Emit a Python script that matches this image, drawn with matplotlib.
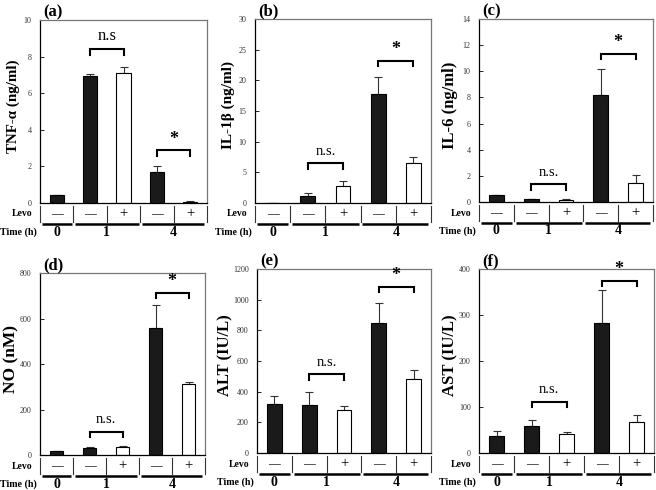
import matplotlib
matplotlib.use('Agg')
import matplotlib.pyplot as plt
import matplotlib.transforms as mtrans
import numpy as np

plt.rcParams['font.family'] = ['Liberation Serif', 'DejaVu Serif']

# data
panel_tags = ['(a)', '(b)', '(c)', '(d)', '(e)', '(f)']
y_titles = ['TNF-α (ng/ml)', 'IL-1β (ng/ml)', 'IL-6 (ng/ml)', 'NO (nM)', 'ALT (IU/L)', 'AST (IU/L)']
levo_signs = ['—', '—', '+', '—', '+']
time_labels = ['0', '1', '4']
time_pos = [0, 1.5, 3.5]

tnf_mean = [0.45, 6.95, 7.1, 1.72, 0.05]
tnf_err = [0, 0.1, 0.32, 0.32, 0.08]
il1b_mean = [0, 1.2, 2.8, 17.7, 6.5]
il1b_err = [0, 0.4, 0.8, 2.9, 1.05]
il6_mean = [0.55, 0.25, 0.15, 8.17, 1.48]
il6_err = [0, 0, 0.05, 2.0, 0.62]
no_mean = [19, 29, 37, 558, 311]
no_err = [0, 8, 3, 102, 10]
alt_mean = [319, 315, 282, 851, 482]
alt_err = [50, 80, 22, 126, 58]
ast_mean = [36, 58, 41, 282, 67]
ast_err = [11, 14, 4, 72, 16]

means = [tnf_mean, il1b_mean, il6_mean, no_mean, alt_mean, ast_mean]
errs = [tnf_err, il1b_err, il6_err, no_err, alt_err, ast_err]
y_max = [10, 30, 14, 800, 1200, 400]
y_step = [2, 5, 2, 200, 200, 100]
ns_text = ['n.s', 'n.s.', 'n.s.', 'n.s.', 'n.s.', 'n.s.']
ns_y = [8.4, 6.5, 1.36, 103, 514, 111]
star_y = [2.87, 23.2, 11.36, 712, 1085, 374]

bar_colors = ['#1a1a1a', '#1a1a1a', 'white', '#1a1a1a', 'white']

# axes boxes in pixels: left, top, right, bottom
boxes = [(40, 20, 207, 203), (255, 19, 431, 203), (479, 19, 653, 202),
         (40, 273, 205, 455), (257, 269, 431, 453), (479, 269, 654, 453)]
ylab_size = [10.8, 11, 12, 12.5, 12, 12]
ylab_off = [-27, -27, -29.5, -29, -32, -29]
ns_size = [12, 10.5, 10.5, 10.5, 10.5, 10.5]
W, H = 656, 490

fig = plt.figure(figsize=(6.56, 4.9), dpi=100)

for i in range(6):
    l, t, r, b = boxes[i]
    ax = fig.add_axes([l / W, (H - b) / H, (r - l) / W, (b - t) / H])
    x = np.arange(5)
    m = means[i]
    e = errs[i]
    ax.bar(x, m, width=0.42, color=bar_colors, edgecolor='black', linewidth=0.8, zorder=2)
    ax.errorbar(x, m, yerr=[np.zeros(5), e], fmt='none', ecolor='#333333',
                elinewidth=0.8, capsize=3, capthick=0.8, zorder=1)
    ax.set_xlim(-0.5, 4.5)
    ax.set_ylim(0, y_max[i])
    ax.set_yticks(np.arange(0, y_max[i] + y_step[i] / 2, y_step[i]))
    ax.set_xticks([])
    ax.tick_params(axis='y', direction='in', length=3, width=0.6, labelsize=5.8,
                   labelcolor='#333333', pad=6)
    for s in ['left', 'bottom']:
        ax.spines[s].set_color('black')
        ax.spines[s].set_linewidth(0.9)
    for s in ['top', 'right']:
        ax.spines[s].set_color('#777777')
        ax.spines[s].set_linewidth(0.9)

    ax.set_ylabel(y_titles[i], fontsize=ylab_size[i], fontweight='bold', va='center')
    ax.yaxis.set_label_coords(ylab_off[i] / (r - l), 0.53)
    ax.text(0.02, 1.0, panel_tags[i], transform=ax.transAxes, fontsize=12,
            fontweight='bold', ha='left', va='bottom')

    # significance brackets
    drop = 0.03 * y_max[i]
    ax.plot([1, 1, 2, 2], [ns_y[i] - drop, ns_y[i], ns_y[i], ns_y[i] - drop],
            color='black', lw=1.5, solid_joinstyle='miter')
    ax.text(1.5, ns_y[i] + 0.03 * y_max[i], ns_text[i], ha='center', va='bottom',
            fontsize=ns_size[i])
    ax.plot([3, 3, 4, 4], [star_y[i] - drop, star_y[i], star_y[i], star_y[i] - drop],
            color='black', lw=1.5, solid_joinstyle='miter')
    ax.text(3.5, star_y[i] + 0.015 * y_max[i], '*', ha='center', va='bottom',
            fontsize=13, fontweight='bold')

    # Levo / Time table under the axis
    tr = mtrans.blended_transform_factory(ax.transData, ax.transAxes)
    hgt = b - t
    for xd in [-0.5, 0.5, 1.5, 2.5, 3.5, 4.5]:
        ax.plot([xd, xd], [-3 / hgt, -19 / hgt], color='#333333', lw=0.8,
                transform=tr, clip_on=False)
    for k in range(5):
        ax.text(k, -11 / hgt, levo_signs[k], transform=tr, ha='center', va='center',
                fontsize=8.5 if levo_signs[k] == '—' else 10.5)
    for x0, x1 in [(-0.45, 0.45), (0.55, 2.45), (2.55, 4.42)]:
        ax.plot([x0, x1], [-21 / hgt, -21 / hgt], color='black', lw=1.8,
                transform=tr, clip_on=False, solid_capstyle='butt')
    for p, lab in zip(time_pos, time_labels):
        ax.text(p, -29 / hgt, lab, transform=tr, ha='center', va='center',
                fontsize=10, fontweight='bold')
    off = mtrans.offset_copy(ax.transAxes, fig=fig, x=-8, y=0, units='dots')
    ax.text(0, -11 / hgt, 'Levo', transform=off, ha='right', va='center',
            fontsize=7, fontweight='bold')
    off2 = mtrans.offset_copy(ax.transAxes, fig=fig, x=-3, y=0, units='dots')
    ax.text(0, -29 / hgt, 'Time (h)', transform=off2, ha='right', va='center',
            fontsize=7.2, fontweight='bold')

fig.savefig('out.png', dpi=100)
